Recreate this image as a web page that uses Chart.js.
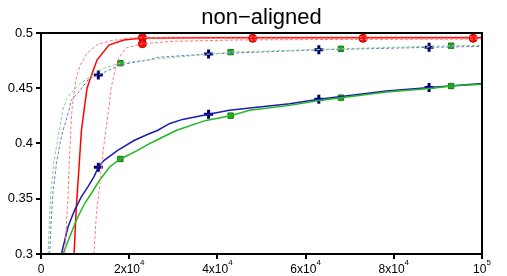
<!DOCTYPE html>
<html>
<head>
<meta charset="utf-8">
<script src="https://cdn.jsdelivr.net/npm/chart.js@4.4.1/dist/chart.umd.min.js"></script>
<style>
html,body{margin:0;padding:0;background:#fff;}
#c{display:block;}
</style>
</head>
<body>
<canvas id="c" width="507" height="276"></canvas>
<script>
// ---- data ----
const titleText = 'non\u2212aligned';
const yTickValues = [0.3, 0.35, 0.4, 0.45, 0.5];
const yTickLabels = ['0.3', '0.35', '0.4', '0.45', '0.5'];
const xTickValues = [0, 20000, 40000, 60000, 80000, 100000];
const xTickBases = ['0', '2x10', '4x10', '6x10', '8x10', '10'];
const xTickExps = ['', '4', '4', '4', '4', '5'];

const redSolidX = [7500, 8000, 8570, 9170, 10070, 10450, 11200, 12700, 15400, 18800, 23000, 40000, 60000, 100000];
const redSolidY = [0.300, 0.342, 0.3755, 0.412, 0.439, 0.450, 0.459, 0.4755, 0.489, 0.4936, 0.4955, 0.4956, 0.4956, 0.4956];

const redUpperX = [5400, 5800, 6130, 6450, 6740, 7050, 7270, 7430, 8000, 8930, 10450, 12700, 15750, 20300, 30000, 60000, 100000];
const redUpperY = [0.300, 0.330, 0.352, 0.385, 0.412, 0.432, 0.439, 0.4439, 0.4591, 0.4712, 0.4818, 0.4894, 0.4930, 0.4955, 0.4962, 0.4964, 0.4965];

const redLowerX = [12000, 12570, 13300, 14000, 14700, 15600, 15900, 16400, 16900, 17650, 19200, 23000, 30000, 45000, 70000, 100000];
const redLowerY = [0.300, 0.3367, 0.361, 0.390, 0.412, 0.439, 0.450, 0.459, 0.468, 0.477, 0.4864, 0.4903, 0.4925, 0.4937, 0.4942, 0.4945];

const blueSolidX = [4630, 6130, 7650, 9170, 10660, 12030, 13000, 14250, 17300, 21100, 24500, 26400, 29100, 32100, 38000, 42700, 49500, 56400, 63000, 78300, 88200, 100000];
const blueSolidY = [0.300, 0.3247, 0.340, 0.352, 0.3609, 0.370, 0.3785, 0.3845, 0.3936, 0.4027, 0.4088, 0.4118, 0.4179, 0.4218, 0.4264, 0.4300, 0.4330, 0.4360, 0.4400, 0.4475, 0.4506, 0.4543];

const greenSolidX = [4990, 6510, 8030, 9920, 11440, 13320, 15600, 18000, 21800, 24500, 26400, 30600, 37400, 43000, 47300, 56400, 63000, 68100, 78300, 88200, 93100, 100000];
const greenSolidY = [0.300, 0.3157, 0.3308, 0.3459, 0.355, 0.367, 0.379, 0.386, 0.3936, 0.3997, 0.4034, 0.4118, 0.4209, 0.4252, 0.4300, 0.4345, 0.4390, 0.4415, 0.4466, 0.4497, 0.4520, 0.4536];

const blueDashX = [1970, 2300, 2700, 3500, 4300, 5000, 5700, 6450, 6800, 8350, 10950, 13000, 18000, 24500, 26400, 38000, 63000, 88000, 100000];
const blueDashY = [0.300, 0.330, 0.355, 0.382, 0.400, 0.412, 0.4209, 0.4318, 0.439, 0.4455, 0.459, 0.462, 0.4712, 0.4757, 0.478, 0.481, 0.4848, 0.487, 0.4879];

const greenDashX = [1600, 1900, 2200, 2900, 3600, 4300, 4900, 5800, 6800, 8930, 11200, 14250, 18000, 24100, 43000, 68000, 93000, 100000];
const greenDashY = [0.300, 0.330, 0.355, 0.382, 0.400, 0.415, 0.430, 0.440, 0.4455, 0.4545, 0.4606, 0.4682, 0.4727, 0.4757, 0.4827, 0.4857, 0.4885, 0.4888];

const redMarkX = [23000, 23000, 48000, 73000, 98000];
const redMarkY = [0.4958, 0.4903, 0.4952, 0.4952, 0.4952];
const blueSolidMarkX = [13000, 38000, 63000, 88000];
const blueSolidMarkY = [0.3785, 0.4264, 0.4400, 0.4506];
const greenSolidMarkX = [18000, 43000, 68000, 93000];
const greenSolidMarkY = [0.386, 0.4252, 0.4415, 0.4520];
const blueDashMarkX = [13000, 38000, 63000, 88000];
const blueDashMarkY = [0.462, 0.481, 0.4848, 0.487];
const greenDashMarkX = [18000, 43000, 68000, 93000];
const greenDashMarkY = [0.4727, 0.4827, 0.4857, 0.4885];

// ---- build ----
const FONT = '"Liberation Sans", Arial, Helvetica, sans-serif';
function pts(xs, ys) { return xs.map((x, i) => ({x: x, y: ys[i]})); }
function line(xs, ys, color, width, dash) {
  return {type: 'line', data: pts(xs, ys), borderColor: color, borderWidth: width,
    borderDash: dash || [], pointRadius: 0, fill: false, tension: 0, showLine: true};
}
function marks(xs, ys, style, r, fillC, borderC, bw) {
  return {type: 'scatter', data: pts(xs, ys), showLine: false, pointStyle: style,
    pointRadius: r, pointHoverRadius: r, backgroundColor: fillC, borderColor: borderC, pointBorderWidth: bw, borderWidth: bw};
}

const datasets = [
  line(greenDashX, greenDashY, '#7fd67f', 1, [3, 2]),
  line(blueDashX, blueDashY, '#7070e0', 1, [3, 2]),
  line(redUpperX, redUpperY, '#ff7a7a', 1, [3, 2]),
  line(redLowerX, redLowerY, '#ff7a7a', 1, [3, 2]),
  line(greenSolidX, greenSolidY, '#22b822', 1.5),
  line(blueSolidX, blueSolidY, '#1c1cb0', 1.5),
  line(redSolidX, redSolidY, '#ff0000', 1.5),
  marks(greenDashMarkX, greenDashMarkY, 'rect', 3.8, '#22aa22', '#137a13', 1),
  marks(greenSolidMarkX, greenSolidMarkY, 'rect', 3.8, '#22aa22', '#137a13', 1),
  marks(blueDashMarkX, blueDashMarkY, 'cross', 4.5, '#00006e', '#00006e', 3),
  marks(blueSolidMarkX, blueSolidMarkY, 'cross', 4.5, '#00006e', '#00006e', 3),
  marks(redMarkX, redMarkY, 'circle', 4, '#ff1010', '#b80000', 1)
];

const framePlugin = {
  id: 'frameAndLabels',
  afterDraw(chart) {
    const ctx = chart.ctx, a = chart.chartArea, xs = chart.scales.x;
    ctx.save();
    ctx.strokeStyle = '#000';
    ctx.lineWidth = 2;
    ctx.strokeRect(a.left, a.top, a.right - a.left, a.bottom - a.top);
    ctx.fillStyle = '#000';
    ctx.textBaseline = 'alphabetic';
    // title centred over the plot area
    ctx.textAlign = 'center';
    ctx.font = '22px ' + FONT;
    ctx.fillText(titleText, (a.left + a.right) / 2, 23.5);
    ctx.textAlign = 'left';
    const baseFont = '12px ' + FONT, supFont = '8px ' + FONT;
    xTickValues.forEach((v, i) => {
      const px = xs.getPixelForValue(v);
      ctx.font = baseFont;
      const wb = ctx.measureText(xTickBases[i]).width;
      ctx.font = supFont;
      const we = xTickExps[i] ? ctx.measureText(xTickExps[i]).width : 0;
      const x0 = px - (wb + we) / 2;
      ctx.font = baseFont;
      ctx.fillText(xTickBases[i], x0, 273);
      if (xTickExps[i]) {
        ctx.font = supFont;
        ctx.fillText(xTickExps[i], x0 + wb, 265);
      }
    });
    ctx.restore();
  }
};

new Chart(document.getElementById('c'), {
  type: 'line',
  data: {datasets: datasets},
  plugins: [framePlugin],
  options: {
    responsive: false,
    animation: false,
    devicePixelRatio: 1,
    layout: {padding: {left: 0, right: 25, top: 33, bottom: 0}},
    plugins: {
      legend: {display: false},
      tooltip: {enabled: false},
      title: {display: false}
    },
    scales: {
      x: {
        type: 'linear', min: 0, max: 100000,
        afterBuildTicks(s) { s.ticks = xTickValues.map(v => ({value: v})); },
        afterFit(s) { s.height = 22; },
        ticks: {display: false},
        grid: {display: true, drawOnChartArea: false, drawTicks: true, tickLength: 5, color: '#000', lineWidth: 2},
        border: {display: false}
      },
      y: {
        type: 'linear', min: 0.3, max: 0.5,
        afterBuildTicks(s) { s.ticks = yTickValues.map(v => ({value: v})); },
        afterFit(s) { s.width = 41; },
        ticks: {color: '#000', font: {family: FONT, size: 13}, padding: 3,
          callback: (v, i) => yTickLabels[i]},
        grid: {display: true, drawOnChartArea: false, drawTicks: true, tickLength: 5, color: '#000', lineWidth: 2},
        border: {display: false}
      }
    }
  }
});
</script>
</body>
</html>
